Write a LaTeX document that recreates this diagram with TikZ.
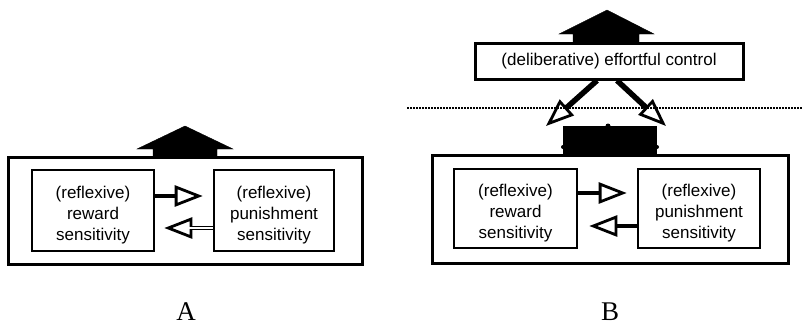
\documentclass[tikz,border=0pt]{standalone}
\usepackage{fontspec}
\setmainfont{Liberation Serif}
\newfontfamily\boxfont{Liberation Sans}
\usetikzlibrary{arrows.meta}
% three-line box text, set a little below the box centre
\newcommand\lowtext[1]{\raisebox{-5pt}[\height][\depth]{\begin{tabular}{@{}c@{}}#1\end{tabular}}}
\tikzset{
  frame/.style={draw, line width=3pt},
  inbox/.style={draw, line width=2.6pt, align=center, font=\boxfont\fontsize{17}{21}\selectfont},
  openhead/.style={-{Triangle[open, length=28pt, width=21pt, line width=2.8pt]}, line width=4.4pt},
  blockarrow/.style={fill=black},
  panel/.style={font=\fontsize{27}{30}\selectfont}
}
\begin{document}
\begin{tikzpicture}[x=1pt, y=-1pt]
\useasboundingbox (0,0) rectangle (802,327);

% ---------- Panel A ----------
\draw[frame] (8,157) rectangle (362,264);
\node[inbox, minimum width=122pt, minimum height=81pt] (rewA) at (93,210.5)
  {\lowtext{(reflexive)\\reward\\sensitivity}};
\node[inbox, minimum width=120pt, minimum height=81pt] (punA) at (274,210.5)
  {\lowtext{(reflexive)\\punishment\\sensitivity}};
\draw[blockarrow] (153,158) -- (153,149) -- (137,149) -- (185,126) -- (233,149)
  -- (217,149) -- (217,158) -- cycle;
\draw[openhead, shorten >=10pt] (rewA.east |- 0,196) -- (punA.west |- 0,196);
\draw[openhead, shorten >=9pt] (punA.west |- 0,228) -- (rewA.east |- 0,228);
\draw[white, line width=1.3pt] (punA.west |- 0,228) -- ++(-24,0);
\node[panel] (labA) at (186,312) {A};

% ---------- Panel B ----------
\draw[frame] (432,155) rectangle (788,263);
\node[inbox, minimum width=123pt, minimum height=79pt] (rewB) at (515.5,208.5)
  {\lowtext{(reflexive)\\reward\\sensitivity}};
\node[inbox, minimum width=122pt, minimum height=79pt] (punB) at (699,208.5)
  {\lowtext{(reflexive)\\punishment\\sensitivity}};
\draw[openhead, shorten >=10pt] (rewB.east |- 0,193) -- (punB.west |- 0,193);
\draw[openhead, shorten >=11pt] (punB.west |- 0,226) -- (rewB.east |- 0,226);

\node[inbox, line width=3pt, minimum width=268pt, minimum height=36pt] (ctrl) at (609,61)
  {(deliberative) effortful control};
\draw[blockarrow] (573,43) -- (573,34) -- (559,34) -- (607,10) -- (654,34)
  -- (639,34) -- (639,43) -- cycle;

% dotted boundary
\draw[line width=2.6pt, dash pattern=on 2.2pt off 0.8pt] (407,108) coordinate (dl) -- (802,108) coordinate (dr);

% blocking bar above the reflexive system
\fill (563,126) rectangle (657,156);
\fill (608,126) circle (2.5pt);
\fill (563,147) circle (2pt);
\fill (657,147) circle (2pt);
\coordinate (tipL) at (546,126);
\coordinate (tipR) at (666,126);
\draw[openhead, line width=5.5pt] (ctrl.south -| 597,0) -- (tipL);
\draw[openhead, line width=5.5pt] (ctrl.south -| 617,0) -- (tipR);

\node[panel] (labB) at (610,312) {B};
\end{tikzpicture}
\end{document}
